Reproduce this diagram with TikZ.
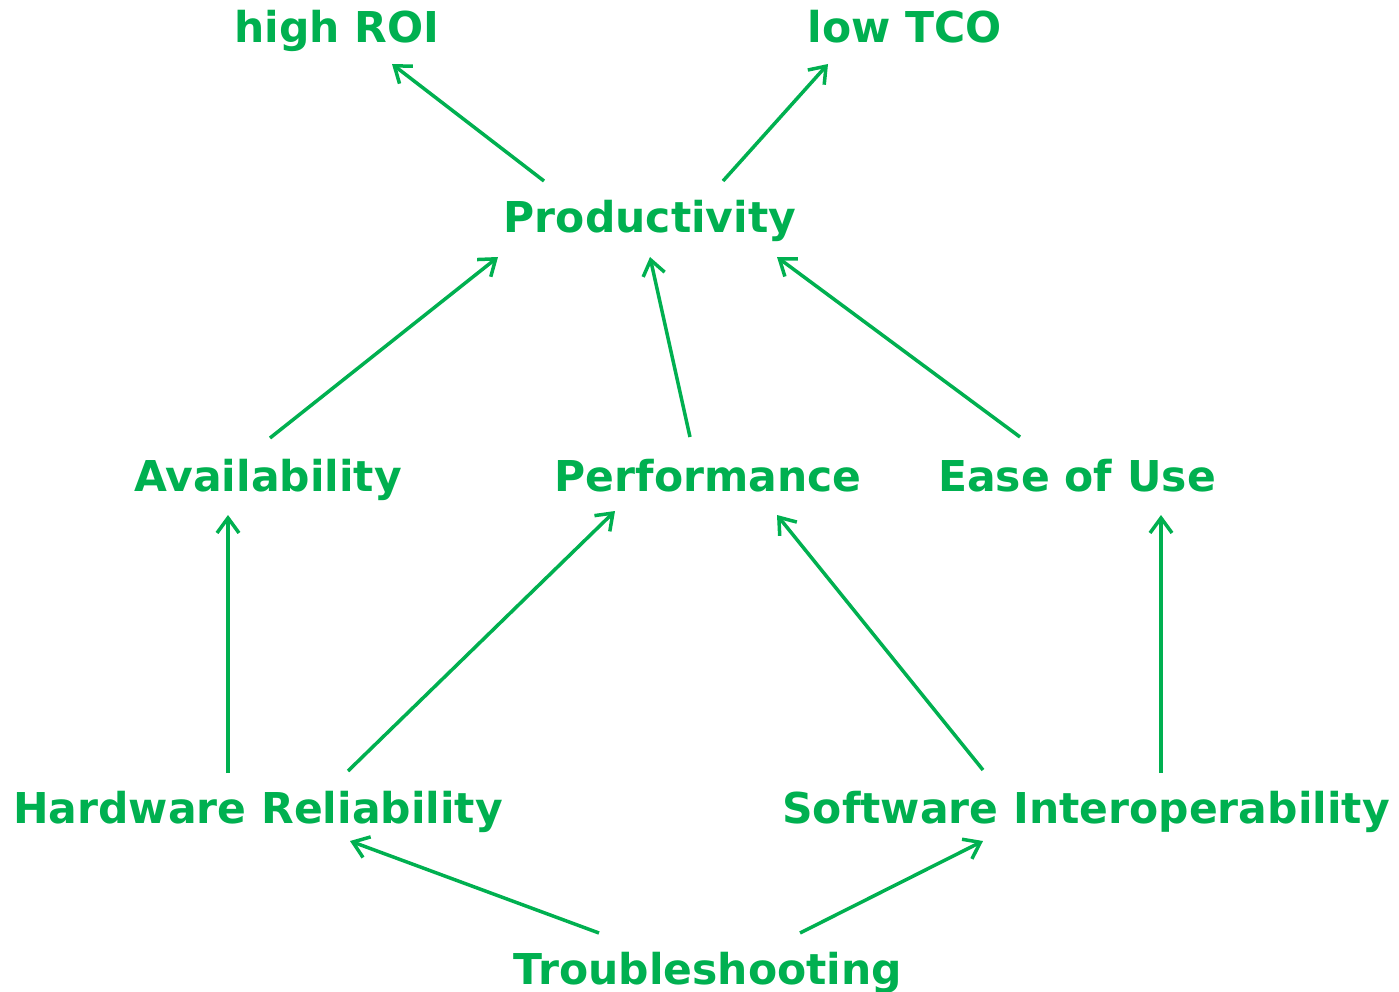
\documentclass[tikz,border=0pt]{standalone}
\usepackage{fontspec}
\setmainfont{DejaVu Sans}
\usetikzlibrary{arrows.meta}
\definecolor{mygreen}{HTML}{00B050}
\tikzset{
  lbl/.style={anchor=base, inner sep=0pt, text=mygreen, font=\fontsize{42.5}{48}\selectfont\bfseries},
  arr/.style={-{Straight Barb[length=15pt,width=22pt]}, draw=mygreen, line width=3.5pt},
}

\begin{document}
\begin{tikzpicture}[x=1pt, y=-1pt]
  \useasboundingbox (0,0) rectangle (1399,992);
  % goals
  \node[lbl] (roi) at (337,43) {high ROI};
  \node[lbl] (tco) at (905,43) {low TCO};
  \node[lbl] (prod) at (650,233) {Productivity};
  % qualities
  \node[lbl] (avail) at (268,491) {Availability};
  \node[lbl] (perf) at (708,491) {Performance};
  \node[lbl] (ease) at (1077,491) {Ease of Use};
  \node[lbl] (hw) at (258,823) {Hardware Reliability};
  \node[lbl] (sw) at (1086,823) {Software Interoperability};
  \node[lbl] (trbl) at (708,984) {Troubleshooting};
  % arrows, offsets from the baselines
  \draw[arr] ([shift={(-106,-52)}]prod.base) -- ([shift={(55,21)}]roi.base);
  \draw[arr] ([shift={(73,-52)}]prod.base) -- ([shift={(-77,21)}]tco.base);
  \draw[arr] ([shift={(2,-53)}]avail.base) -- ([shift={(-152,24)}]prod.base);
  \draw[arr] ([shift={(-18,-54)}]perf.base) -- ([shift={(0,24)}]prod.base);
  \draw[arr] ([shift={(-57,-54)}]ease.base) -- ([shift={(127,24)}]prod.base);
  \draw[arr] ([shift={(-30,-50)}]hw.base) -- ([shift={(-40,24)}]avail.base);
  \draw[arr] ([shift={(90,-52)}]hw.base) -- ([shift={(-93,20)}]perf.base);
  \draw[arr] ([shift={(-103,-53)}]sw.base) -- ([shift={(69,24)}]perf.base);
  \draw[arr] ([shift={(75,-50)}]sw.base) -- ([shift={(84,24)}]ease.base);
  \draw[arr] ([shift={(-109,-51)}]trbl.base) -- ([shift={(92,18)}]hw.base);
  \draw[arr] ([shift={(92,-51)}]trbl.base) -- ([shift={(-103,18)}]sw.base);
\end{tikzpicture}
\end{document}
